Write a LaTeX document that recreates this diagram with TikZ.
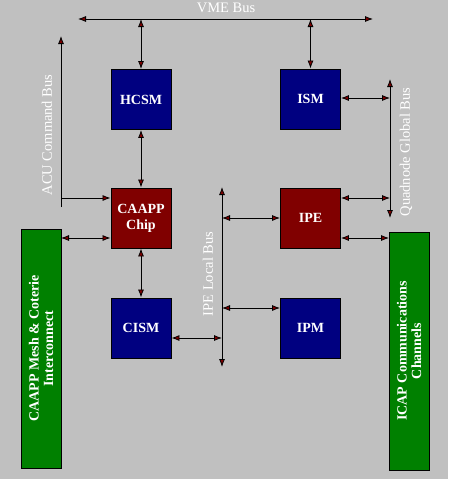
\documentclass[tikz,border=0pt]{standalone}
\usepackage{fontspec}
\setmainfont{Liberation Serif}
\usetikzlibrary{arrows.meta}
\definecolor{bg}{HTML}{C0C0C0}
\definecolor{navyc}{HTML}{000080}
\definecolor{maroonc}{HTML}{800000}
\definecolor{greenc}{HTML}{008000}
\begin{document}
\begin{tikzpicture}[x=1pt,y=-1pt,
  box/.style={draw=black, line width=0.9pt, minimum width=60pt, minimum height=60pt, inner sep=0pt, text=white, font=\bfseries\fontsize{14}{16}\selectfont, align=center},
  bluebox/.style={box, fill=navyc},
  redbox/.style={box, fill=maroonc},
  greenbox/.style={draw=black, line width=0.9pt, fill=greenc, rotate=90, inner sep=0pt, text=white, font=\bfseries\fontsize{14}{14.5}\selectfont, align=center},
  buslabel/.style={text=white, font=\fontsize{14.5}{16}\selectfont, inner sep=0pt},
  tipx/.tip={Latex[length=8pt,width=6pt,fill=maroonc]},
  link/.style={draw=black, line width=0.8pt},
  both/.style={link, tipx-tipx},
  fwd/.style={link, -tipx}
]
\fill[bg] (0,0) rectangle (448,479);
\useasboundingbox (0,0) rectangle (448,479);

% boxes
\node[bluebox] (HCSM) at (141,99.5) {HCSM};
\node[redbox] (CAAPP) at (141,218) {CAAPP\\Chip};
\node[bluebox] (CISM) at (141,328) {CISM};
\node[bluebox] (ISM) at (310.5,99) {ISM};
\node[redbox] (IPE) at (310.5,218) {IPE};
\node[bluebox] (IPM) at (310.5,328) {IPM};
\node[greenbox, minimum width=239pt, minimum height=40pt] (MESH) at (41,348.5) {CAAPP Mesh \& Coterie\\Interconnect};
\node[greenbox, minimum width=238pt, minimum height=40pt] (ICAP) at (409,351) {ICAP Communications\\Channels};

% bus coordinates
\coordinate (vmeL) at (78,19);
\coordinate (vmeR) at (373,19);
\coordinate (vme1) at (141,19);
\coordinate (vme2) at (310.5,19);
\coordinate (acuT) at (61,36);
\coordinate (acuB) at (61,207);
\coordinate (acuJ) at (61,198);
\coordinate (meshJ) at (61,238);
\coordinate (qT) at (390,79);
\coordinate (qB) at (390,218);
\coordinate (q1) at (390,98);
\coordinate (q2) at (390,198);
\coordinate (c3) at (389,238);
\coordinate (lT) at (222,187);
\coordinate (lB) at (222,367);
\coordinate (l1) at (222,218);
\coordinate (l2) at (222,308);
\coordinate (l3) at (222,338);

% VME bus
\draw[both] (vmeL) -- (vmeR);
\draw[both] (vme1) -- (HCSM.north);
\draw[both] (vme2) -- (ISM.north);
\node[buslabel] (vmelab) at (226,8) {VME Bus};

% vertical chain
\draw[both] (HCSM.south) -- (CAAPP.north);
\draw[both] (CAAPP.south) -- (CISM.north);

% ACU command bus
\draw[fwd] (acuB) -- (acuT);
\draw[fwd] (acuJ) -- (acuJ -| CAAPP.west);
\node[buslabel, rotate=90] (aculab) at (47,135) {ACU Command Bus};

% mesh link
\draw[both] (meshJ) -- (meshJ -| CAAPP.west);

% Quadnode global bus
\draw[both] (qB) -- (qT);
\draw[both] (q1 -| ISM.east) -- (q1);
\draw[both] (q2 -| IPE.east) -- (q2);
\node[buslabel, rotate=90] (qlab) at (406,152) {Quadnode Global Bus};

% IPE to ICAP
\draw[both] (c3 -| IPE.east) -- (c3);

% IPE local bus
\draw[both] (lB) -- (lT);
\draw[both] (l1) -- (l1 -| IPE.west);
\draw[both] (l2) -- (l2 -| IPM.west);
\draw[both] (l3 -| CISM.east) -- (l3);
\node[buslabel, rotate=90] (llab) at (208,274) {IPE Local Bus};
\end{tikzpicture}
\end{document}
